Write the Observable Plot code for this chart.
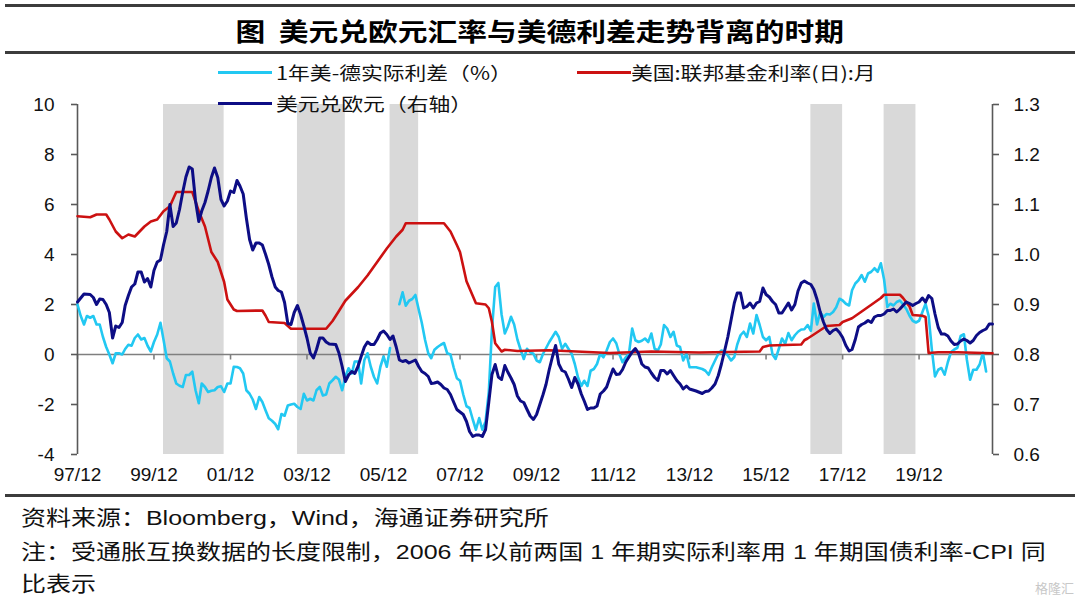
<!DOCTYPE html>
<html>
<head>
<meta charset="utf-8">
<script src="https://cdn.jsdelivr.net/npm/d3@7"></script>
<script src="https://cdn.jsdelivr.net/npm/@observablehq/plot@0.6"></script>
<style>
  body { margin: 0; background: #fff; }
  #wrap { position: relative; width: 1080px; height: 603px; overflow: hidden; background: #fff;
          font-family: "Liberation Sans", "Noto Sans CJK SC", sans-serif; color: #111; }
  .rule { position: absolute; left: 5px; width: 1070px; background: #3c3c3c; }
  .title { position: absolute; left: 0; width: 1080px; top: 13px; text-align: center;
           font-family: "Noto Sans CJK SC", sans-serif; font-weight: 700; font-size: 25px; line-height: 34px; color: #000; }
  .title span { display: inline-block; transform: scaleX(1.19); transform-origin: center; white-space: pre; }
  .sw { position: absolute; height: 3px; width: 54px; z-index: 2; }
  .lt { position: absolute; font-family: "Noto Sans CJK SC", sans-serif; font-size: 18px; line-height: 22px; z-index: 2;
        transform: scaleX(1.21); transform-origin: left center; white-space: pre; color: #111; }
  .ft { position: absolute; left: 21px; font-family: "Liberation Sans", "Noto Sans CJK SC", sans-serif; font-size: 21px;
        line-height: 26px; transform: scaleX(1.19); transform-origin: left center; white-space: pre; color: #111; }
  #chart { position: absolute; left: 0; top: 90px; z-index: 1; }
  .wm { position: absolute; right: 6px; bottom: 6px; font-family: "Noto Sans CJK SC"; font-size: 13px; color: #c8c8c8; }
</style>
</head>
<body>
<div id="wrap">
  <div class="rule" style="top:4px;height:3px"></div>
  <div class="title"><span>图  美元兑欧元汇率与美德利差走势背离的时期</span></div>
  <div class="rule" style="top:51px;height:2.5px"></div>

  <div id="chart"></div>

  <div class="sw" style="left:218px;top:71px;background:#22c8f2"></div>
  <div class="lt" style="left:276px;top:61px">1年美-德实际利差（%）</div>
  <div class="sw" style="left:577px;top:71px;background:#cc1111"></div>
  <div class="lt" style="left:631px;top:61px">美国:联邦基金利率(日):月</div>
  <div class="sw" style="left:218px;top:102px;background:#0d0d85"></div>
  <div class="lt" style="left:276px;top:92px">美元兑欧元（右轴）</div>

  <div class="rule" style="top:494px;height:3px"></div>
  <div class="ft" style="top:505px">资料来源：Bloomberg，Wind，海通证券研究所</div>
  <div class="ft" style="top:539px">注：受通胀互换数据的长度限制，2006 年以前两国 1 年期实际利率用 1 年期国债利率-CPI 同</div>
  <div class="ft" style="top:571px">比表示</div>
  <div class="wm">格隆汇</div>
</div>
<script>
// ---------- data ----------
const xDomain = ["1997-12", "2021-11"];
const tickLabels = ["1997-12","1999-12","2001-12","2003-12","2005-12","2007-12","2009-12","2011-12","2013-12","2015-12","2017-12","2019-12"];
const leftTicks = [-4, -2, 0, 2, 4, 6, 8, 10];
const leftDomain = [-4, 10];
const rightDomain = [0.6, 1.3];

// periods of divergence (shaded)
const divergenceBands = [
  ["2000-03", "2001-10"],
  ["2003-09", "2004-12"],
  ["2006-02", "2006-11"],
  ["2017-02", "2017-12"],
  ["2019-01", "2019-11"]
];

// 1-year US-German real rate spread (%), before 2006: treasury yield minus CPI
const spreadBefore2006 = [
  ["1997-12",2.0],["1998-01",1.54],["1998-02",1.2],["1998-03",1.54],["1998-04",1.47],["1998-05",1.54],
  ["1998-06",1.2],["1998-07",1.2],["1998-08",0.7],["1998-09",0.3],["1998-10",0.0],["1998-11",-0.35],
  ["1998-12",0.05],["1999-01",0.05],["1999-02",0.0],["1999-03",0.22],["1999-04",0.39],["1999-05",0.35],
  ["1999-06",0.66],["1999-07",0.8],["1999-08",0.6],["1999-09",0.66],["1999-10",0.35],["1999-11",0.12],
  ["1999-12",0.5],["2000-01",0.8],["2000-02",1.27],["2000-03",0.6],["2000-04",-0.15],["2000-05",-0.28],
  ["2000-06",-0.76],["2000-07",-1.16],["2000-08",-1.25],["2000-09",-1.3],["2000-10",-0.82],["2000-11",-0.82],
  ["2000-12",-0.69],["2001-01",-1.43],["2001-02",-1.95],["2001-03",-1.16],["2001-04",-1.3],["2001-05",-1.5],
  ["2001-06",-1.45],["2001-07",-1.43],["2001-08",-1.3],["2001-09",-1.27],["2001-10",-1.5],["2001-11",-1.16],
  ["2001-12",-1.16],["2002-01",-0.49],["2002-02",-0.5],["2002-03",-0.55],["2002-04",-0.76],["2002-05",-1.43],
  ["2002-06",-1.57],["2002-07",-1.8],["2002-08",-2.18],["2002-09",-1.7],["2002-10",-1.9],["2002-11",-2.24],
  ["2002-12",-2.55],["2003-01",-2.65],["2003-02",-2.78],["2003-03",-2.99],["2003-04",-2.38],["2003-05",-2.45],
  ["2003-06",-2.04],["2003-07",-2.0],["2003-08",-1.97],["2003-09",-2.1],["2003-10",-2.18],["2003-11",-1.57],
  ["2003-12",-1.84],["2004-01",-1.77],["2004-02",-1.84],["2004-03",-1.43],["2004-04",-1.3],["2004-05",-1.64],
  ["2004-06",-1.6],["2004-07",-1.16],["2004-08",-1.03],["2004-09",-0.89],["2004-10",-1.0],["2004-11",-1.43],
  ["2004-12",-0.89],["2005-01",-0.55],["2005-02",-0.76],["2005-03",-0.28],["2005-04",-0.28],["2005-05",-1.16],
  ["2005-06",-0.22],["2005-07",0.05],["2005-08",-0.49],["2005-09",-0.9],["2005-10",-1.16],["2005-11",-0.49],
  ["2005-12",-0.08],["2006-01",-0.49],["2006-02",0.26]
];
// 1-year US-German real rate spread (%), from 2006: inflation swaps
const spreadFrom2006 = [
  ["2006-05",2.01],["2006-06",2.49],["2006-07",1.95],["2006-08",2.15],["2006-09",2.22],["2006-10",2.38],
  ["2006-11",1.81],["2006-12",1.27],["2007-01",0.59],["2007-02",0.05],["2007-03",-0.15],["2007-04",0.19],
  ["2007-05",0.3],["2007-06",0.39],["2007-07",0.46],["2007-08",0.05],["2007-09",0.0],["2007-10",-0.51],
  ["2007-11",-0.95],["2007-12",-1.05],["2008-01",-1.6],["2008-02",-2.07],["2008-03",-2.14],["2008-04",-2.6],
  ["2008-05",-3.01],["2008-06",-2.54],["2008-07",-3.01],["2008-08",-2.68],["2008-09",-1.5],["2008-10",1.0],
  ["2008-11",2.7],["2008-12",2.86],["2009-01",1.6],["2009-02",0.84],["2009-03",1.11],["2009-04",1.51],
  ["2009-05",1.2],["2009-06",0.6],["2009-07",0.2],["2009-08",-0.18],["2009-09",0.23],["2009-10",0.09],
  ["2009-11",0.03],["2009-12",-0.24],["2010-01",-0.31],["2010-02",0.03],["2010-03",0.25],["2010-04",0.5],
  ["2010-05",0.7],["2010-06",0.91],["2010-07",0.7],["2010-08",0.23],["2010-09",0.43],["2010-10",0.23],
  ["2010-11",0.03],["2010-12",-0.38],["2011-01",-0.92],["2011-02",-1.26],["2011-03",-1.05],["2011-04",-1.26],
  ["2011-05",-0.65],["2011-06",-0.58],["2011-07",-0.38],["2011-08",0.03],["2011-09",-0.11],["2011-10",0.16],
  ["2011-11",0.5],["2011-12",0.64],["2012-01",0.45],["2012-02",0.0],["2012-03",-0.31],["2012-04",-0.11],
  ["2012-05",0.03],["2012-06",1.04],["2012-07",0.57],["2012-08",0.5],["2012-09",0.55],["2012-10",0.64],
  ["2012-11",0.5],["2012-12",0.84],["2013-01",0.23],["2013-02",0.16],["2013-03",0.4],["2013-04",1.18],
  ["2013-05",1.04],["2013-06",0.7],["2013-07",0.91],["2013-08",0.36],["2013-09",0.3],["2013-10",-0.24],
  ["2013-11",0.03],["2013-12",-0.51],["2014-02",-0.51],["2014-04",-0.58],["2014-05",-0.65],["2014-06",-0.81],
  ["2014-07",-0.51],["2014-08",-0.24],["2014-09",0.03],["2014-10",0.16],["2014-11",0.1],["2014-12",-0.04],
  ["2015-01",-0.24],["2015-02",-0.1],["2015-03",0.4],["2015-04",0.77],["2015-05",0.91],["2015-06",0.7],
  ["2015-07",1.24],["2015-08",0.84],["2015-09",1.58],["2015-10",1.18],["2015-11",0.7],["2015-12",0.57],
  ["2016-01",0.7],["2016-02",0.0],["2016-03",-0.18],["2016-04",0.23],["2016-05",0.64],["2016-06",0.43],
  ["2016-07",0.86],["2016-08",0.57],["2016-09",0.77],["2016-10",0.91],["2016-11",1.0],["2016-12",1.01],
  ["2017-01",1.18],["2017-02",0.95],["2017-03",2.04],["2017-04",1.2],["2017-05",1.7],["2017-06",1.5],
  ["2017-07",1.62],["2017-08",1.6],["2017-09",1.7],["2017-10",1.89],["2017-11",2.23],["2017-12",2.16],
  ["2018-01",2.03],["2018-02",1.96],["2018-03",2.57],["2018-04",2.84],["2018-05",2.97],["2018-06",3.18],
  ["2018-07",2.91],["2018-08",3.24],["2018-09",3.31],["2018-10",3.45],["2018-11",3.31],["2018-12",3.65],
  ["2019-01",3.0],["2019-02",1.9],["2019-03",2.03],["2019-04",1.96],["2019-05",2.1],["2019-06",2.16],
  ["2019-07",2.0],["2019-08",1.82],["2019-09",1.55],["2019-10",1.35],["2019-11",1.28],["2019-12",1.35],
  ["2020-01",1.69],["2020-02",2.03],["2020-03",1.55],["2020-04",0.2],["2020-05",-0.88],["2020-06",-0.61],
  ["2020-07",-0.54],["2020-08",-0.81],["2020-09",-0.3],["2020-10",0.1],["2020-11",0.2],["2020-12",0.27],
  ["2021-01",0.74],["2021-02",0.81],["2021-03",-0.2],["2021-04",-1.01],["2021-05",-0.61],["2021-06",-0.61],
  ["2021-07",-0.4],["2021-08",0.07],["2021-09",-0.68]
];

// US federal funds rate (%)
const fedFunds = [
  ["1997-12",5.53],["1998-04",5.49],["1998-06",5.6],["1998-09",5.6],["1998-10",5.4],["1998-12",4.92],
  ["1999-02",4.65],["1999-04",4.8],["1999-06",4.72],["1999-07",4.85],["1999-09",5.12],["1999-11",5.32],
  ["2000-01",5.4],["2000-03",5.73],["2000-05",5.93],["2000-07",6.5],["2000-12",6.5],["2001-02",5.73],
  ["2001-04",5.12],["2001-06",4.1],["2001-08",3.7],["2001-10",2.9],["2001-11",2.2],["2002-01",1.8],
  ["2002-02",1.74],["2002-10",1.76],["2002-11",1.55],["2002-12",1.3],["2003-05",1.26],["2003-07",1.03],
  ["2004-06",1.03],["2004-08",1.34],["2004-10",1.74],["2004-12",2.15],["2005-04",2.69],["2005-07",3.16],
  ["2005-10",3.7],["2006-01",4.24],["2006-04",4.72],["2006-06",4.99],["2006-07",5.25],["2007-07",5.25],
  ["2007-09",4.92],["2007-11",4.38],["2007-12",4.1],["2008-02",2.93],["2008-05",2.05],["2008-08",2.0],
  ["2008-09",1.85],["2008-10",1.3],["2008-11",0.45],["2009-01",0.12],["2009-02",0.19],["2009-06",0.14],
  ["2010-04",0.17],["2011-04",0.1],["2011-11",0.06],["2012-12",0.12],["2014-03",0.08],["2015-10",0.12],
  ["2015-11",0.3],["2016-01",0.36],["2016-11",0.4],["2016-12",0.57],["2017-01",0.64],["2017-03",0.8],
  ["2017-05",0.97],["2017-07",1.14],["2017-11",1.18],["2017-12",1.3],["2018-03",1.45],["2018-06",1.72],
  ["2018-09",1.99],["2018-12",2.26],["2019-01",2.39],["2019-06",2.39],["2019-07",2.26],["2019-09",1.92],
  ["2019-10",1.58],["2020-01",1.55],["2020-02",1.5],["2020-03",0.06],["2020-06",0.09],["2020-12",0.09],
  ["2021-11",0.05]
];

// USD per EUR (right axis)
const usdEur = [
  ["1997-12",0.905],["1998-02",0.921],["1998-04",0.92],["1998-05",0.914],["1998-06",0.9],["1998-07",0.911],
  ["1998-08",0.91],["1998-09",0.9],["1998-10",0.884],["1998-11",0.833],["1998-12",0.857],["1999-01",0.854],
  ["1999-02",0.864],["1999-03",0.898],["1999-04",0.918],["1999-05",0.935],["1999-06",0.941],["1999-07",0.965],
  ["1999-08",0.965],["1999-09",0.945],["1999-10",0.952],["1999-11",0.935],["1999-12",0.968],["2000-01",0.985],
  ["2000-02",0.989],["2000-03",1.019],["2000-04",1.046],["2000-05",1.1],["2000-06",1.056],["2000-07",1.063],
  ["2000-08",1.09],["2000-09",1.125],["2000-10",1.155],["2000-11",1.175],["2000-12",1.171],["2001-01",1.107],
  ["2001-02",1.066],["2001-03",1.087],["2001-04",1.104],["2001-05",1.127],["2001-06",1.154],["2001-07",1.173],
  ["2001-08",1.154],["2001-09",1.11],["2001-10",1.097],["2001-11",1.107],["2001-12",1.127],["2002-01",1.124],
  ["2002-02",1.148],["2002-03",1.137],["2002-04",1.121],["2002-05",1.073],["2002-06",1.03],["2002-07",1.009],
  ["2002-08",1.023],["2002-09",1.023],["2002-10",1.019],["2002-11",1.0],["2002-12",0.98],["2003-01",0.955],
  ["2003-02",0.935],["2003-03",0.928],["2003-04",0.925],["2003-05",0.904],["2003-06",0.862],["2003-07",0.86],
  ["2003-08",0.884],["2003-09",0.898],["2003-10",0.88],["2003-11",0.857],["2003-12",0.833],["2004-01",0.803],
  ["2004-02",0.793],["2004-03",0.81],["2004-04",0.833],["2004-05",0.833],["2004-06",0.825],["2004-07",0.821],
  ["2004-09",0.82],["2004-10",0.803],["2004-11",0.776],["2004-12",0.746],["2005-01",0.759],["2005-02",0.766],
  ["2005-03",0.762],["2005-04",0.776],["2005-05",0.796],["2005-06",0.815],["2005-07",0.825],["2005-08",0.82],
  ["2005-09",0.82],["2005-10",0.83],["2005-11",0.843],["2005-12",0.847],["2006-01",0.84],["2006-02",0.83],
  ["2006-03",0.837],["2006-04",0.815],["2006-05",0.789],["2006-06",0.786],["2006-07",0.788],["2006-08",0.783],
  ["2006-09",0.786],["2006-10",0.789],["2006-11",0.776],["2006-12",0.766],["2007-01",0.762],["2007-02",0.756],
  ["2007-03",0.742],["2007-04",0.743],["2007-05",0.745],["2007-06",0.74],["2007-07",0.733],["2007-08",0.73],
  ["2007-09",0.72],["2007-10",0.705],["2007-11",0.69],["2007-12",0.685],["2008-01",0.68],["2008-02",0.666],
  ["2008-03",0.646],["2008-04",0.636],["2008-05",0.639],["2008-06",0.639],["2008-07",0.636],["2008-08",0.65],
  ["2008-09",0.705],["2008-10",0.76],["2008-11",0.78],["2008-12",0.755],["2009-01",0.75],["2009-02",0.778],
  ["2009-03",0.765],["2009-04",0.753],["2009-05",0.74],["2009-06",0.717],["2009-07",0.707],["2009-08",0.704],
  ["2009-09",0.69],["2009-10",0.677],["2009-11",0.67],["2009-12",0.68],["2010-01",0.7],["2010-02",0.72],
  ["2010-03",0.74],["2010-04",0.77],["2010-05",0.795],["2010-06",0.818],["2010-07",0.781],["2010-08",0.768],
  ["2010-09",0.765],["2010-10",0.751],["2010-11",0.734],["2010-12",0.754],["2011-01",0.741],["2011-02",0.721],
  ["2011-03",0.707],["2011-04",0.69],["2011-05",0.693],["2011-06",0.693],["2011-07",0.697],["2011-08",0.721],
  ["2011-09",0.727],["2011-10",0.735],["2011-11",0.754],["2011-12",0.771],["2012-01",0.76],["2012-02",0.761],
  ["2012-03",0.77],["2012-04",0.785],["2012-05",0.795],["2012-06",0.805],["2012-07",0.812],["2012-08",0.802],
  ["2012-09",0.781],["2012-10",0.775],["2012-11",0.773],["2012-12",0.763],["2013-01",0.754],["2013-02",0.748],
  ["2013-03",0.768],["2013-04",0.768],["2013-05",0.761],["2013-06",0.768],["2013-07",0.758],["2013-08",0.748],
  ["2013-09",0.741],["2013-10",0.731],["2013-11",0.737],["2013-12",0.731],["2014-01",0.729],["2014-02",0.727],
  ["2014-04",0.722],["2014-05",0.726],["2014-06",0.727],["2014-07",0.733],["2014-08",0.741],["2014-09",0.758],
  ["2014-10",0.781],["2014-11",0.808],["2014-12",0.835],["2015-01",0.869],["2015-02",0.903],["2015-03",0.923],
  ["2015-04",0.923],["2015-05",0.893],["2015-06",0.896],["2015-07",0.903],["2015-08",0.893],["2015-09",0.903],
  ["2015-10",0.906],["2015-11",0.933],["2015-12",0.92],["2016-01",0.915],["2016-02",0.906],["2016-03",0.9],
  ["2016-04",0.883],["2016-05",0.883],["2016-06",0.893],["2016-07",0.903],["2016-08",0.889],["2016-09",0.9],
  ["2016-10",0.927],["2016-11",0.943],["2016-12",0.947],["2017-01",0.943],["2017-02",0.94],["2017-03",0.93],
  ["2017-04",0.91],["2017-05",0.885],["2017-06",0.865],["2017-07",0.85],["2017-08",0.842],["2017-09",0.848],
  ["2017-10",0.851],["2017-11",0.844],["2017-12",0.834],["2018-01",0.818],["2018-02",0.807],["2018-03",0.81],
  ["2018-04",0.83],["2018-05",0.855],["2018-06",0.86],["2018-07",0.863],["2018-08",0.868],["2018-09",0.864],
  ["2018-10",0.875],["2018-11",0.878],["2018-12",0.878],["2019-01",0.881],["2019-02",0.888],["2019-03",0.888],
  ["2019-04",0.891],["2019-05",0.885],["2019-06",0.891],["2019-07",0.898],["2019-08",0.905],["2019-09",0.902],
  ["2019-10",0.898],["2019-11",0.902],["2019-12",0.905],["2020-01",0.913],["2020-02",0.905],["2020-03",0.918],
  ["2020-04",0.912],["2020-05",0.881],["2020-06",0.854],["2020-07",0.841],["2020-08",0.841],["2020-09",0.837],
  ["2020-10",0.827],["2020-11",0.82],["2020-12",0.821],["2021-01",0.827],["2021-02",0.831],["2021-03",0.828],
  ["2021-04",0.823],["2021-05",0.828],["2021-06",0.838],["2021-07",0.844],["2021-08",0.848],["2021-09",0.851],
  ["2021-10",0.861],["2021-11",0.861]
];

// ---------- chart ----------
const parse = d3.utcParse("%Y-%m");
const toLeft = d3.scaleLinear(rightDomain, leftDomain);   // right-axis value -> left-axis units
const fmtRight = v => toLeft.invert(v).toFixed(1);
const tickDates = tickLabels.map(parse);
const COLORS = { spread: "#22c8f2", fed: "#cc1111", fx: "#0d0d85", axis: "#595959", zero: "#7f7f7f" };

const chart = Plot.plot({
  width: 1080,
  height: 400,
  marginTop: 14,
  marginBottom: 36,
  marginLeft: 77,
  marginRight: 88,
  style: { fontFamily: "Liberation Sans, Arial, sans-serif", fontSize: "19px", color: "#111", background: "transparent" },
  x: { type: "utc", domain: xDomain.map(parse) },
  y: { domain: leftDomain },
  marks: [
    Plot.rect(divergenceBands, { x1: d => parse(d[0]), x2: d => parse(d[1]), fill: "#d9d9d9" }),
    Plot.ruleY([0], { stroke: COLORS.zero, strokeWidth: 1.6 }),
    Plot.ruleX(tickDates, { x: d => d, y1: 0, y2: -0.22, stroke: COLORS.zero, strokeWidth: 1.6 }),
    Plot.ruleX([parse(xDomain[0])], { stroke: COLORS.axis, strokeWidth: 1.6 }),
    Plot.ruleX([parse(xDomain[1])], { stroke: COLORS.axis, strokeWidth: 1.6 }),
    Plot.axisY(leftTicks, { anchor: "left", tickSize: 6, tickPadding: 17, stroke: COLORS.axis, strokeWidth: 1.6,
      fill: "#111", fontSize: 19, tickFormat: d => String(d) }),
    Plot.axisY(leftTicks, { anchor: "right", tickSize: 6, tickPadding: 15, stroke: COLORS.axis, strokeWidth: 1.6,
      fill: "#111", fontSize: 19, tickFormat: fmtRight }),
    Plot.axisX(tickDates, { anchor: "bottom", tickSize: 0, tickPadding: 13, fill: "#111", fontSize: 19,
      tickFormat: d3.utcFormat("%y/%m") }),
    Plot.line(spreadBefore2006, { x: d => parse(d[0]), y: d => d[1], stroke: COLORS.spread, strokeWidth: 2.6 }),
    Plot.line(spreadFrom2006, { x: d => parse(d[0]), y: d => d[1], stroke: COLORS.spread, strokeWidth: 2.6 }),
    Plot.line(fedFunds, { x: d => parse(d[0]), y: d => d[1], stroke: COLORS.fed, strokeWidth: 2.6 }),
    Plot.line(usdEur, { x: d => parse(d[0]), y: d => toLeft(d[1]), stroke: COLORS.fx, strokeWidth: 3 })
  ]
});
document.getElementById("chart").appendChild(chart);
</script>
</body>
</html>
